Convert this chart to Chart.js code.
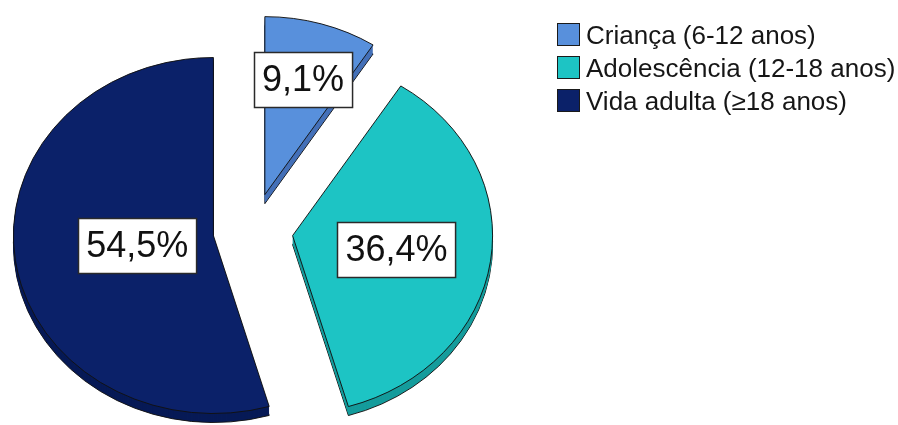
<!DOCTYPE html>
<html>
<head>
<meta charset="utf-8">
<script src="https://cdn.jsdelivr.net/npm/chart.js@4.4.1/dist/chart.umd.min.js"></script>
<style>
  html, body { margin: 0; padding: 0; background: #ffffff; }
  #wrap { position: relative; width: 898px; height: 425px; overflow: hidden; }
  #legend {
    position: absolute; left: 557px; top: 18px;
    font-family: "Liberation Sans", Arial, sans-serif; font-size: 26px; color: #161616;
  }
  .row { display: flex; align-items: center; height: 33px; white-space: nowrap; }
  .sw { width: 21px; height: 21px; border: 1.5px solid #1a1a1a; margin-right: 6px; flex: none; }
  .row span { position: relative; top: 1px; }
</style>
</head>
<body>
<div id="wrap">
  <canvas id="c" width="898" height="425"></canvas>
  <div id="legend"></div>
</div>
<script>
// Age groups and their share of respondents (%)
const categories = ['Criança (6-12 anos)', 'Adolescência (12-18 anos)', 'Vida adulta (≥18 anos)'];
const percentages = [9.1, 36.4, 54.5];

// Slice colours: top face and extruded side
const faceColors = ['#5890dc', '#1dc4c4', '#0b2169'];
const sideColors = ['#4470b8', '#159c9c', '#071a56'];

// Look of the tilted, exploded pie
const TILT = 0.89;          // vertical squash of the pie
const DEPTH = 9;            // thickness of the extruded side, px
const EXPLODE = [42, 40, 40];          // how far each slice is pulled out, px
const LABEL_RADIUS = [0.675, 0.525, 0.385]; // label anchor as fraction of radius

function fmtPct(v) { return v.toFixed(1).replace('.', ',') + '%'; }

// Legend
const legendEl = document.getElementById('legend');
categories.forEach((name, i) => {
  const row = document.createElement('div');
  row.className = 'row';
  const sw = document.createElement('div');
  sw.className = 'sw';
  sw.style.background = faceColors[i];
  const tx = document.createElement('span');
  tx.textContent = name;
  row.appendChild(sw);
  row.appendChild(tx);
  legendEl.appendChild(row);
});

// Tilts the pie, pulls slices out, draws the extruded sides and the value boxes
const pie3d = {
  id: 'pie3d',
  beforeDatasetsDraw(chart) {
    const ctx = chart.ctx;
    const arcs = chart.getDatasetMeta(0).data;
    const cy = arcs[0].y;
    this._saved = arcs.map(a => ({ x: a.x, y: a.y }));
    ctx.save();
    ctx.translate(0, cy);
    ctx.scale(1, TILT);
    ctx.translate(0, -cy);
    arcs.forEach((a, i) => {
      const mid = (a.startAngle + a.endAngle) / 2;
      a.x += Math.cos(mid) * EXPLODE[i];
      a.y += Math.sin(mid) * EXPLODE[i];
    });
    // extruded sides, bottom layer first
    arcs.forEach((a, i) => {
      for (let t = DEPTH; t >= 1; t--) {
        ctx.save();
        ctx.translate(0, t / TILT);
        ctx.beginPath();
        ctx.moveTo(a.x, a.y);
        ctx.arc(a.x, a.y, a.outerRadius, a.startAngle, a.endAngle);
        ctx.closePath();
        ctx.fillStyle = sideColors[i];
        ctx.fill();
        if (t === DEPTH) {
          ctx.lineWidth = 1;
          ctx.strokeStyle = '#111';
          ctx.stroke();
        }
        ctx.restore();
      }
    });
  },
  afterDatasetsDraw(chart) {
    const ctx = chart.ctx;
    const arcs = chart.getDatasetMeta(0).data;
    ctx.restore();
    const cy = this._saved[0].y;
    const labels = arcs.map((a, i) => {
      const mid = (a.startAngle + a.endAngle) / 2;
      const r = a.outerRadius * LABEL_RADIUS[i];
      return {
        x: a.x + Math.cos(mid) * r,
        y: cy + (a.y + Math.sin(mid) * r - cy) * TILT,
        text: fmtPct(percentages[i])
      };
    });
    arcs.forEach((a, i) => { a.x = this._saved[i].x; a.y = this._saved[i].y; });

    ctx.save();
    ctx.font = '36px "Liberation Sans", Arial, sans-serif';
    ctx.textAlign = 'center';
    ctx.textBaseline = 'middle';
    labels.forEach(l => {
      const w = ctx.measureText(l.text).width + 16;
      const h = 55;
      const x0 = Math.round(l.x - w / 2) + 0.5;
      const y0 = Math.round(l.y - h / 2) + 0.5;
      ctx.fillStyle = '#ffffff';
      ctx.fillRect(x0, y0, w, h);
      ctx.lineWidth = 1.5;
      ctx.strokeStyle = '#2a2a2a';
      ctx.strokeRect(x0, y0, w, h);
      ctx.fillStyle = '#111111';
      ctx.fillText(l.text, l.x, l.y + 2);
    });
    ctx.restore();
  }
};

new Chart(document.getElementById('c'), {
  type: 'pie',
  data: {
    labels: categories,
    datasets: [{
      data: percentages,
      backgroundColor: faceColors,
      borderColor: '#111111',
      borderWidth: 1,
      clip: false
    }]
  },
  options: {
    responsive: false,
    animation: false,
    devicePixelRatio: 1,
    radius: 200,
    layout: { padding: { left: 0, right: 392, top: 36, bottom: 0 } },
    plugins: {
      legend: { display: false },
      tooltip: { enabled: false },
      title: { display: false }
    },
    events: []
  },
  plugins: [pie3d]
});
</script>
</body>
</html>
